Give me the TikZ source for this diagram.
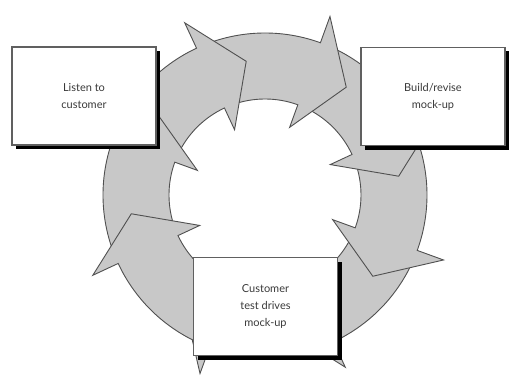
\documentclass[tikz,border=0pt]{standalone}
\usepackage{fontspec}
\setmainfont{Lato}
\usetikzlibrary{shadows}
\definecolor{ringfill}{HTML}{C8C8C8}
\definecolor{ringline}{HTML}{505050}
\definecolor{boxline}{HTML}{606060}
\definecolor{txt}{HTML}{3A3A3A}
\begin{document}
\begin{tikzpicture}[x=1pt,y=1pt,
  seg/.style={fill=ringfill, draw=ringline, line width=0.9pt, line join=miter},
  card/.style={draw=boxline, line width=1.2pt, fill=white, minimum width=144pt, minimum height=98pt,
    align=center, font=\fontsize{11}{17}\selectfont, text=txt,
    drop shadow={shadow xshift=4pt, shadow yshift=-4pt, fill=black, opacity=1}}]
\useasboundingbox (-265,-188) rectangle (251,195);
\coordinate (c) at (0,0);
% ring of eight curved arrows (drawn so each head lies on the next tail)
\foreach \b in {-110,-65,-20,25,70,115,160,205}{
  \draw[seg] ({\b+40}:162pt) arc[start angle={\b+40}, end angle=\b, radius=162pt]
    -- (\b:190pt) -- ({\b-17}:135pt) -- (\b:72pt) -- (\b:96pt)
    arc[start angle=\b, end angle={\b+40}, radius=96pt] -- cycle;
}
\node[card] (listen) at (-181,99) {Listen to\\customer};
\node[card] (build) at (168,98.5) {Build/revise\\mock-up};
\node[card] (test) at (0.5,-111.5) {Customer\\test drives\\mock-up};
\end{tikzpicture}
\end{document}
